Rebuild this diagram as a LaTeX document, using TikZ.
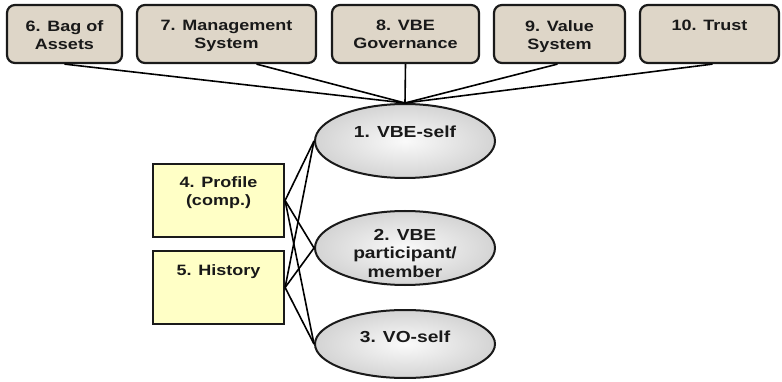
\documentclass[tikz,border=0pt]{standalone}
\usepackage{fontspec}
\setmainfont{Liberation Sans}[FakeStretch=1.2]
\usetikzlibrary{shapes.geometric}
\definecolor{beige}{HTML}{DED6C8}
\definecolor{paleyellow}{HTML}{FFFFC6}
\definecolor{bordergray}{HTML}{1A1A1A}
\tikzset{
  topbox/.style={draw=bordergray, line width=2.2pt, rounded corners=8pt, fill=beige, inner sep=0pt},
  sidebox/.style={draw=bordergray, line width=2.2pt, fill=paleyellow, inner sep=0pt},
  ovalnode/.style={ellipse, draw=bordergray, line width=2pt, inner color=gray!4, outer color=gray!34, inner sep=0pt, minimum width=180pt},
  boxtext/.style={anchor=north, inner sep=0pt, align=center, font=\bfseries\fontsize{15}{18}\selectfont, text=black!90},
  ovaltext/.style={anchor=north, inner sep=0pt, align=center, font=\bfseries\fontsize{16}{18.5}\selectfont, text=black!90},
  link/.style={line width=1.6pt, draw=black}
}
\begin{document}
\begin{tikzpicture}[x=1pt,y=-1pt]
\useasboundingbox (0,0) rectangle (782,382);
% top boxes
\node[topbox, minimum width=115pt, minimum height=58pt] (b6) at (64.5,34) {};
\node[topbox, minimum width=179pt, minimum height=58pt] (b7) at (226.5,34) {};
\node[topbox, minimum width=147pt, minimum height=58pt] (b8) at (405.5,34) {};
\node[topbox, minimum width=131pt, minimum height=58pt] (b9) at (559.5,34) {};
\node[topbox, minimum width=139pt, minimum height=58pt] (b10) at (709.5,34) {};
\node[boxtext] (t6) at (64.5,20) {6. Bag of\\Assets};
\node[boxtext] (t7) at (226.5,20) {7. Management\\System};
\node[boxtext] (t8) at (405.5,20) {8. VBE\\Governance};
\node[boxtext] (t9) at (559.5,20) {9. Value\\System};
\node[boxtext] (t10) at (709.5,20) {10. Trust};
% ellipses
\node[ovalnode, minimum height=74pt] (e1) at (405,141) {};
\node[ovalnode, minimum height=74pt] (e2) at (405,248) {};
\node[ovalnode, minimum height=68pt] (e3) at (405,344) {};
\node[ovaltext] (te1) at (405,126) {1. VBE-self};
\node[ovaltext] (te2) at (405,229) {2. VBE\\participant/\\member};
\node[ovaltext] (te3) at (405,331) {3. VO-self};
% side boxes
\node[sidebox, minimum width=131pt, minimum height=73pt] (b4) at (218.5,200.5) {};
\node[sidebox, minimum width=131pt, minimum height=73pt] (b5) at (218.5,287.5) {};
\node[boxtext] (t4) at (218.5,176) {4. Profile\\(comp.)};
\node[boxtext] (t5) at (218.5,264) {5. History};
% connectors top
\draw[link] (b6.south) -- (e1.north);
\draw[link] ([xshift=30pt]b7.south) -- (e1.north);
\draw[link] (b8.south) -- (e1.north);
\draw[link] ([xshift=-2pt]b9.south) -- (e1.north);
\draw[link] ([xshift=3pt]b10.south) -- (e1.north);
% connectors side
\foreach \s in {b4,b5}{
  \foreach \t in {e1,e2,e3}{
    \draw[link] (\s.east) -- (\t.west);
  }
}
\end{tikzpicture}
\end{document}
